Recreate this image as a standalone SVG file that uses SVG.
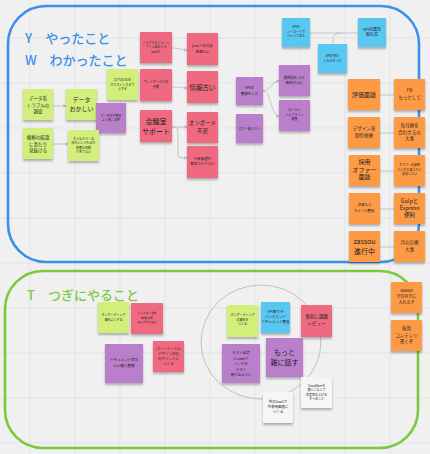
<svg xmlns="http://www.w3.org/2000/svg" width="430" height="454" viewBox="0 0 430 454">
<defs>
<filter id="sh" x="-20%" y="-20%" width="140%" height="150%">
<feDropShadow dx="0" dy="2" stdDeviation="1.2" flood-color="#000" flood-opacity="0.28"/>
</filter>
<marker id="ar" markerWidth="4" markerHeight="4" refX="3.5" refY="2" orient="auto" markerUnits="userSpaceOnUse">
<path d="M0,0.5 L3.5,2 L0,3.5" fill="none" stroke="#999" stroke-width="0.6"/>
</marker>
</defs>
<style>
.bg{fill:#f0f0f0}
.grid line{stroke:#e3e3e3;stroke-width:1}
.frame{fill:none;stroke-width:2.6}
.note{filter:url(#sh)}
.g{fill:#d2ef7c}
.r{fill:#ef6b80}
.p{fill:#b97fca}
.b{fill:#58c7f2}
.o{fill:#fd9a45}
.w{fill:#f6f6f6}
text{font-family:"Noto Sans CJK JP","Noto Sans",sans-serif;fill:#222;text-anchor:middle}
.title{font-size:13px;text-anchor:start;font-weight:500}
.conn path{fill:none;stroke:#aaa;stroke-width:0.6}
</style>
<rect class="bg" x="0" y="0" width="430" height="454"/>
<g class="grid">
<line x1="30" y1="0" x2="30" y2="454"/><line x1="75" y1="0" x2="75" y2="454"/><line x1="120" y1="0" x2="120" y2="454"/><line x1="165" y1="0" x2="165" y2="454"/><line x1="210" y1="0" x2="210" y2="454"/><line x1="255" y1="0" x2="255" y2="454"/><line x1="300" y1="0" x2="300" y2="454"/><line x1="345" y1="0" x2="345" y2="454"/><line x1="390" y1="0" x2="390" y2="454"/>
<line x1="0" y1="38" x2="430" y2="38"/><line x1="0" y1="83" x2="430" y2="83"/><line x1="0" y1="128" x2="430" y2="128"/><line x1="0" y1="173" x2="430" y2="173"/><line x1="0" y1="218" x2="430" y2="218"/><line x1="0" y1="263" x2="430" y2="263"/><line x1="0" y1="308" x2="430" y2="308"/><line x1="0" y1="353" x2="430" y2="353"/><line x1="0" y1="398" x2="430" y2="398"/><line x1="0" y1="443" x2="430" y2="443"/>
</g>
<g id="frame-yw">
<rect class="frame" x="8" y="6" width="411" height="256" rx="38" stroke="#3a90ea"/>
<text class="title" x="25" y="43" fill="#3a90ea" style="fill:#3a90ea">Y　やったこと</text>
<text class="title" x="25" y="65" style="fill:#3a90ea">W　わかったこと</text>
</g>
<g id="frame-t">
<rect class="frame" x="5" y="271" width="413" height="177" rx="38" stroke="#7ec83f"/>
<text class="title" x="27" y="300" style="fill:#7ec83f">T　つぎにやること</text>
</g>
<ellipse id="circle" cx="261" cy="342" rx="60" ry="57" fill="none" stroke="#aaa" stroke-width="0.7"/>
<g class="conn">
<path d="M53,106 H66" marker-end="url(#ar)"/>
<path d="M53,144 H68" marker-end="url(#ar)"/>
<path d="M172,48 C180,48 180,50 187,50" marker-end="url(#ar)"/>
<path d="M172,87 C180,87 180,88 187,88" marker-end="url(#ar)"/>
<path d="M172,127 H187" marker-end="url(#ar)"/>
<path d="M172,127 H175 Q178,127 178,131 V155 Q178,158 181,158 H187" marker-end="url(#ar)"/>
<path d="M263,91 C271,91 271,81 279,81" marker-end="url(#ar)"/>
<path d="M263,91 C271,91 271,116 279,116" marker-end="url(#ar)"/>
<path d="M310,33 H358"/>
<path d="M341,33 Q333,33 333,39 V44"/>
<path d="M380,95 H394"/>
<path d="M380,133 H394"/>
<path d="M380,171 H394"/>
<path d="M380,209 H394"/>
<path d="M380,247 H394"/>
</g>
<g id="n1"><rect class="note g" x="23" y="89" width="30" height="31"/><text font-size="4.5"><tspan x="38" y="100">データ系</tspan><tspan x="38" y="106.5">トラブルの</tspan><tspan x="38" y="113">調査</tspan></text></g>
<g id="n2"><rect class="note g" x="66" y="89" width="31" height="31"/><text font-size="6"><tspan x="81.5" y="102">データ</tspan><tspan x="81.5" y="111">おかしい</tspan></text></g>
<g id="n3"><rect class="note g" x="107" y="69" width="31" height="31"/><text font-size="3"><tspan x="122.5" y="81">ログのJSON</tspan><tspan x="122.5" y="85.5">がネストしすぎて</tspan><tspan x="122.5" y="90">重すぎ</tspan></text></g>
<g id="n4"><rect class="note p" x="96" y="103" width="30" height="30"/><text font-size="3"><tspan x="111" y="116.5">データの不整合</tspan><tspan x="111" y="121">よく起こる件</tspan></text></g>
<g id="n5"><rect class="note g" x="23" y="128" width="30" height="31"/><text font-size="4.5"><tspan x="38" y="139">根拠の結論</tspan><tspan x="38" y="145.5">に至たり</tspan><tspan x="38" y="152">見抜ける</tspan></text></g>
<g id="n6"><rect class="note g" x="68" y="130" width="31" height="31"/><text font-size="3"><tspan x="83.5" y="139.5">ダメなカラーは</tspan><tspan x="83.5" y="144">何かいくつも似ど</tspan><tspan x="83.5" y="148.5">的確な判断</tspan><tspan x="83.5" y="153">できてない</tspan></text></g>
<g id="r1"><rect class="note r" x="140" y="32" width="32" height="31"/><text font-size="3"><tspan x="156" y="43.5">ジョブスケジュール</tspan><tspan x="156" y="48">プール設計ミス</tspan><tspan x="156" y="52.5">jsonも</tspan></text></g>
<g id="r2"><rect class="note r" x="140" y="69" width="32" height="32"/><text font-size="3"><tspan x="156" y="83">サンドボックスの</tspan><tspan x="156" y="88">件数</tspan></text></g>
<g id="r3"><rect class="note r" x="140" y="110" width="32" height="32"/><text font-size="7"><tspan x="156" y="124">会議室</tspan><tspan x="156" y="133.5">サポート</tspan></text></g>
<g id="r4"><rect class="note r" x="187" y="33" width="31" height="32"/><text font-size="3.5"><tspan x="202.5" y="47">jsonへの分析</tspan><tspan x="202.5" y="52.5">準備ない</tspan></text></g>
<g id="r5"><rect class="note r" x="187" y="71" width="31" height="32"/><text font-size="6.5"><tspan x="202.5" y="89.5">情報古い</tspan></text></g>
<g id="r6"><rect class="note r" x="187" y="112" width="31" height="31"/><text font-size="5.5"><tspan x="202.5" y="125">オンボード</tspan><tspan x="202.5" y="133">不足</tspan></text></g>
<g id="r7"><rect class="note r" x="187" y="146" width="31" height="32"/><text font-size="3.5"><tspan x="202.5" y="160">今後展望が</tspan><tspan x="202.5" y="165">周知されてない</tspan></text></g>
<g id="p1"><rect class="note p" x="236" y="77" width="27" height="28"/><text font-size="3.5"><tspan x="249.5" y="89">APIの</tspan><tspan x="249.5" y="94.5">整備をした</tspan></text></g>
<g id="p2"><rect class="note p" x="236" y="114" width="27" height="29"/><text font-size="3"><tspan x="249.5" y="129.5">ログ一覧テスト</tspan></text></g>
<g id="p3"><rect class="note p" x="279" y="65" width="31" height="31"/><text font-size="3"><tspan x="294.5" y="79">数値見直しなど</tspan><tspan x="294.5" y="83.5">価値のために</tspan></text></g>
<g id="p4"><rect class="note p" x="279" y="100" width="31" height="31"/><text font-size="3"><tspan x="294.5" y="111">ローカル</tspan><tspan x="294.5" y="115.5">ヘルプライン</tspan><tspan x="294.5" y="120">調整</tspan></text></g>
<g id="b1"><rect class="note b" x="282" y="18" width="28" height="29"/><text font-size="3"><tspan x="296" y="28">APIを</tspan><tspan x="296" y="32.5">ノーコードで</tspan><tspan x="296" y="37">つくってみた</tspan></text></g>
<g id="b2"><rect class="note b" x="318" y="44" width="29" height="29"/><text font-size="3"><tspan x="332.5" y="57">APIが何か</tspan><tspan x="332.5" y="61.5">したんだっけ</tspan></text></g>
<g id="b3"><rect class="note b" x="358" y="18" width="28" height="29"/><text font-size="4"><tspan x="372" y="30.5">APIの属性</tspan><tspan x="372" y="36">取れ高</tspan></text></g>
<g id="o1"><rect class="note o" x="348" y="79" width="32" height="31"/><text font-size="6"><tspan x="364" y="96.5">評価面談</tspan></text></g>
<g id="o2"><rect class="note o" x="394" y="79" width="31" height="31"/><text font-size="4.5"><tspan x="409.5" y="92">FB</tspan><tspan x="409.5" y="98.5">もっとして</tspan></text></g>
<g id="o3"><rect class="note o" x="348" y="117" width="32" height="31"/><text font-size="4.5"><tspan x="364" y="130">デザイン室</tspan><tspan x="364" y="136.5">制作依頼</tspan></text></g>
<g id="o4"><rect class="note o" x="394" y="117" width="31" height="31"/><text font-size="4.5"><tspan x="409.5" y="127">毎月顔を</tspan><tspan x="409.5" y="133.5">合わせるの</tspan><tspan x="409.5" y="140">大事</tspan></text></g>
<g id="o5"><rect class="note o" x="349" y="155" width="31" height="31"/><text font-size="6"><tspan x="364.5" y="164">採用</tspan><tspan x="364.5" y="171.5">オファー</tspan><tspan x="364.5" y="179">面談</tspan></text></g>
<g id="o6"><rect class="note o" x="394" y="155" width="31" height="31"/><text font-size="3"><tspan x="409.5" y="166">オファーの金額</tspan><tspan x="409.5" y="170.5">といずれ変えたい</tspan><tspan x="409.5" y="175">参加したい</tspan></text></g>
<g id="o7"><rect class="note o" x="349" y="193" width="31" height="31"/><text font-size="3.5"><tspan x="364.5" y="206">評価など</tspan><tspan x="364.5" y="212">Eメール整理</tspan></text></g>
<g id="o8"><rect class="note o" x="394" y="193" width="31" height="31"/><text font-size="5.5"><tspan x="409.5" y="202.5">Gulpと</tspan><tspan x="409.5" y="209.5">Express</tspan><tspan x="409.5" y="216.5">便利</tspan></text></g>
<g id="o9"><rect class="note o" x="349" y="231" width="31" height="31"/><text font-size="7"><tspan x="364.5" y="244">zassou</tspan><tspan x="364.5" y="254">進行中</tspan></text></g>
<g id="o10"><rect class="note o" x="394" y="231" width="31" height="31"/><text font-size="4.5"><tspan x="409.5" y="244">月の計画</tspan><tspan x="409.5" y="251">大事</tspan></text></g>
<g id="t1"><rect class="note g" x="98" y="302" width="31" height="31"/><text font-size="3"><tspan x="113.5" y="316">オンボーディング</tspan><tspan x="113.5" y="320.5">資料よくする</tspan></text></g>
<g id="t2"><rect class="note r" x="131" y="303" width="32" height="31"/><text font-size="2.8"><tspan x="147" y="314">ハンズオン資料</tspan><tspan x="147" y="318.5">整理 手順</tspan><tspan x="147" y="323">なんかやるなど</tspan></text></g>
<g id="t3"><rect class="note p" x="105" y="344" width="38" height="39"/><text font-size="3.5"><tspan x="124" y="361">ドキュメント目次</tspan><tspan x="124" y="366.5">いい感じ整備</tspan></text></g>
<g id="t4"><rect class="note r" x="153" y="341" width="31" height="31"/><text font-size="3.5"><tspan x="168.5" y="350">パートナーさん</tspan><tspan x="168.5" y="355">デザイン対応</tspan><tspan x="168.5" y="360">のポイントに</tspan><tspan x="168.5" y="365">つくる</tspan></text></g>
<g id="t5"><rect class="note g" x="227" y="305" width="31" height="32"/><text font-size="3"><tspan x="242.5" y="316">オンボーディング</tspan><tspan x="242.5" y="320.5">の資料を</tspan><tspan x="242.5" y="325">つくる</tspan></text></g>
<g id="t6"><rect class="note b" x="261" y="302" width="29" height="31"/><text font-size="3.5"><tspan x="275.5" y="313">API周りや</tspan><tspan x="275.5" y="318">バックエンド</tspan><tspan x="275.5" y="323">ドキュメント整理</tspan></text></g>
<g id="t7"><rect class="note r" x="301" y="305" width="31" height="32"/><text font-size="4.5"><tspan x="316.5" y="318">事前に課題</tspan><tspan x="316.5" y="324.5">レビュー</tspan></text></g>
<g id="t8"><rect class="note p" x="222" y="344" width="38" height="39"/><text font-size="3.5"><tspan x="241" y="354">テスト環境</tspan><tspan x="241" y="359.5">にcodeで</tspan><tspan x="241" y="365">リンクを</tspan><tspan x="241" y="370.5">テスト</tspan><tspan x="241" y="376">書けるように</tspan></text></g>
<g id="t9"><rect class="note p" x="266" y="338" width="37" height="39"/><text font-size="7"><tspan x="284.5" y="355">もっと</tspan><tspan x="284.5" y="364.5">雑に話す</tspan></text></g>
<g id="t10"><rect class="note w" x="263" y="392" width="30" height="31"/><text font-size="3.5"><tspan x="278" y="403">外のSaaSで</tspan><tspan x="278" y="408">作業用画面に</tspan><tspan x="278" y="413">つくる</tspan></text></g>
<g id="t11"><rect class="note w" x="301" y="377" width="31" height="31"/><text font-size="3"><tspan x="316.5" y="386.5">Cloudflareを</tspan><tspan x="316.5" y="391">使いこなして</tspan><tspan x="316.5" y="395.5">生産性を上げる</tspan><tspan x="316.5" y="400">すべきこと</tspan></text></g>
<g id="t12"><rect class="note o" x="391" y="282" width="31" height="31"/><text font-size="4"><tspan x="406.5" y="292">zassou</tspan><tspan x="406.5" y="298">次の月次に</tspan><tspan x="406.5" y="304">入れるぞ</tspan></text></g>
<g id="t13"><rect class="note o" x="391" y="320" width="31" height="31"/><text font-size="4.5"><tspan x="406.5" y="330">採用</tspan><tspan x="406.5" y="336.5">コンテンツ</tspan><tspan x="406.5" y="343">書くぞ</tspan></text></g>
</svg>
